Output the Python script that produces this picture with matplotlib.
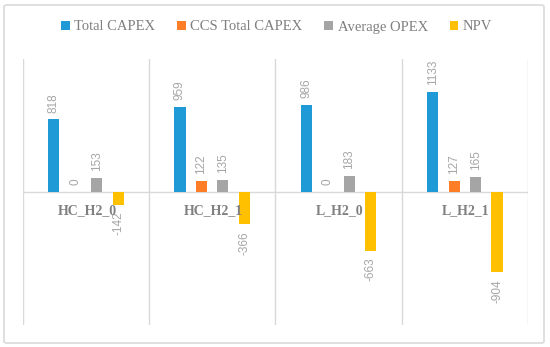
import numpy as np
import matplotlib.pyplot as plt
from matplotlib.patches import FancyBboxPatch

categories = ["HC_H2_0", "HC_H2_1", "L_H2_0", "L_H2_1"]
series = ["Total CAPEX", "CCS Total CAPEX", "Average OPEX", "NPV"]
total_capex = [818, 959, 986, 1133]
ccs_capex = [0, 122, 0, 127]
avg_opex = [153, 135, 183, 165]
npv = [-142, -366, -663, -904]

colors = ["#1F9AD6", "#FD7E26", "#A5A5A5", "#FFC000"]
grid_c = "#D9D9D9"

fig = plt.figure(figsize=(5.5, 3.47), dpi=100)
ax = fig.add_axes([22.7 / 550, 1 - 325 / 347, (528 - 22.7) / 550, (325 - 59) / 347])

# outer chart border
fig.patches.append(FancyBboxPatch((4 / 550, 4 / 347), 540 / 550, 338 / 347,
                                  boxstyle="round,pad=0,rounding_size=0.005",
                                  transform=fig.transFigure, fill=False,
                                  edgecolor=grid_c, linewidth=1.2))

x = np.arange(len(categories))
step = 0.17
width = 0.088
data = [total_capex, ccs_capex, avg_opex, npv]
for i, (name, vals) in enumerate(zip(series, data)):
    pos = x + (i - 1.5) * step
    ax.bar(pos, vals, width=width, color=colors[i], label=name, zorder=3)
    for px, v in zip(pos, vals):
        off = 5 if v >= 0 else -5
        ax.annotate(str(v), (px, v), xytext=(0, off), textcoords="offset points",
                    rotation=90, ha="center", va="bottom" if v >= 0 else "top",
                    fontsize=8.5, color="#A6A6A6", family="Liberation Sans")

ax.set_xlim(-0.5, 3.5)
ax.set_ylim(-1500, 1500)
for b in np.arange(-0.5, 4, 1):
    ax.axvline(b, color=grid_c, linewidth=1, zorder=1)
ax.axhline(0, color=grid_c, linewidth=1, zorder=2)

# category labels, letter-spaced like the original
for xi, cat in zip(x, categories):
    t = ax.text(xi + 0.01, -205, cat, ha="center", va="center", fontsize=10,
                fontweight="bold", color="#808080", family="Liberation Serif")
    t.set_text(cat)

ax.set_xticks([])
ax.set_yticks([])
for s in ax.spines.values():
    s.set_visible(False)

fig.legend(loc="center", bbox_to_anchor=(0.503, 1 - 27 / 347), ncol=4, frameon=False,
           handlelength=0.6, handleheight=0.6, handletextpad=0.3, columnspacing=1.5,
           prop={"family": "Liberation Serif", "size": 10.5}, labelcolor="#7F7F7F")

fig.savefig("out.png", dpi=100)
